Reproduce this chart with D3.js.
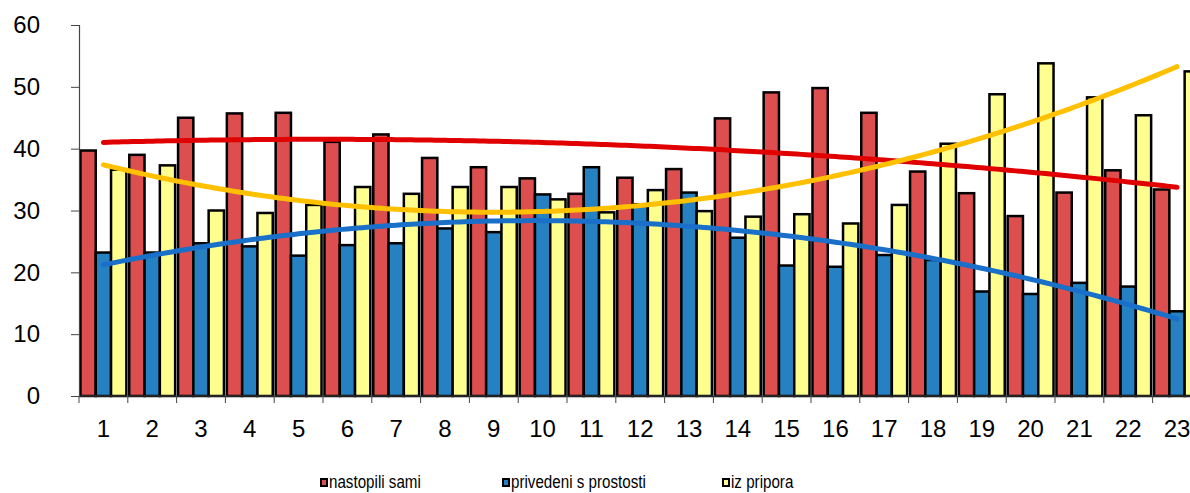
<!DOCTYPE html>
<html>
<head>
<meta charset="utf-8">
<script src="https://cdn.jsdelivr.net/npm/d3@7"></script>
<style>
	body { margin: 0; background: #fff; }
	svg { display: block; }
</style>
</head>
<body>
<div id="chart"></div>
<script>

var categories = ["1","2","3","4","5","6","7","8","9","10","11","12","13","14","15","16","17","18","19","20","21","22","23"];
var seriesNames = ["nastopili sami", "privedeni s prostosti", "iz pripora"];
var nastopili = [39.7, 39.0, 45.0, 45.7, 45.8, 41.1, 42.3, 38.5, 37.0, 35.2, 32.7, 35.3, 36.7, 44.9, 49.1, 49.8, 45.8, 36.3, 32.8, 29.1, 32.9, 36.5, 33.4];
var privedeni = [23.2, 23.2, 24.7, 24.2, 22.7, 24.4, 24.7, 27.1, 26.5, 32.6, 37.0, 31.0, 32.9, 25.6, 21.1, 20.9, 22.8, 22.0, 16.9, 16.5, 18.3, 17.7, 13.7];
var izPripora = [36.6, 37.3, 30.0, 29.6, 30.9, 33.8, 32.7, 33.8, 33.8, 31.8, 29.7, 33.3, 29.9, 29.0, 29.4, 27.9, 30.9, 40.8, 48.8, 53.8, 48.3, 45.4, 52.5];
var yTicks = [0, 10, 20, 30, 40, 50, 60];
var barColors = ["#dd4e4e", "#2681c2", "#ffff8f"];
var trendColors = ["#e00000", "#1a70c8", "#ffc000"];

var chartW = 1190, chartH = 493;
var plotLeft = 79, plotTop = 25, plotBottom = 396;
var plotRight = plotLeft + 23 * 48.8;

// least squares fit of order 2, like the spreadsheet trendline
function polyFit(values) {
	var s = [0, 0, 0, 0, 0], t = [0, 0, 0];
	for (var i = 0; i < values.length; i++) {
		var x = i + 1;
		for (var k = 0; k < 5; k++) s[k] += Math.pow(x, k);
		for (var k = 0; k < 3; k++) t[k] += values[i] * Math.pow(x, k);
	}
	var m = [[s[0], s[1], s[2], t[0]], [s[1], s[2], s[3], t[1]], [s[2], s[3], s[4], t[2]]];
	for (var c = 0; c < 3; c++) {
		for (var r = c + 1; r < 3; r++) {
			var f = m[r][c] / m[c][c];
			for (var j = c; j < 4; j++) m[r][j] -= f * m[c][j];
		}
	}
	var b = [0, 0, 0];
	for (var r = 2; r >= 0; r--) {
		var sum = m[r][3];
		for (var j = r + 1; j < 3; j++) sum -= m[r][j] * b[j];
		b[r] = sum / m[r][r];
	}
	return function(x) { return b[0] + b[1] * x + b[2] * x * x; };
}

function drawChart() {

	var allSeries = [nastopili, privedeni, izPripora];

	var svg = d3.select("#chart").append("svg")
		.attr("width", chartW)
		.attr("height", chartH);

	var x = d3.scaleBand().domain(categories).range([plotLeft, plotRight]).paddingInner(0.06).paddingOuter(0.03);
	var xs = d3.scaleBand().domain([0, 1, 2]).range([0, x.bandwidth()]);
	var y = d3.scaleLinear().domain([0, 60]).range([plotBottom, plotTop]);
	var xc = d3.scaleLinear().domain([1, 23]).range([x("1") + x.bandwidth() / 2, x("23") + x.bandwidth() / 2]);

	// bars
	var groups = svg.append("g").selectAll("g")
		.data(categories)
		.enter().append("g")
		.attr("transform", function(d) { return "translate(" + x(d) + ",0)"; });

	groups.selectAll("rect")
		.data(function(d, i) { return allSeries.map(function(s, k) { return {k: k, v: s[i]}; }); })
		.enter().append("rect")
		.attr("x", function(d) { return xs(d.k); })
		.attr("y", function(d) { return y(d.v); })
		.attr("width", xs.bandwidth())
		.attr("height", function(d) { return y(0) - y(d.v); })
		.attr("fill", function(d) { return barColors[d.k]; })
		.attr("stroke", "#000")
		.attr("stroke-width", 2.5);

	// y axis
	var yAxis = svg.append("g")
		.attr("transform", "translate(" + plotLeft + ",0)")
		.call(d3.axisLeft(y).tickValues(yTicks).tickSize(8).tickPadding(31));
	yAxis.select(".domain").attr("stroke", "#444").attr("stroke-width", 1.2);
	yAxis.selectAll(".tick line").attr("stroke", "#444");
	yAxis.selectAll("text")
		.attr("font-family", "Liberation Sans, Arial, sans-serif")
		.attr("font-size", 24)
		.attr("fill", "#000");

	// x axis
	var xAxisLine = svg.append("g");
	xAxisLine.append("line")
		.attr("x1", plotLeft).attr("x2", plotRight)
		.attr("y1", plotBottom).attr("y2", plotBottom)
		.attr("stroke", "#444").attr("stroke-width", 1.2);
	xAxisLine.selectAll("line.tk")
		.data(d3.range(24))
		.enter().append("line")
		.attr("class", "tk")
		.attr("x1", function(d) { return plotLeft + d * x.step(); })
		.attr("x2", function(d) { return plotLeft + d * x.step(); })
		.attr("y1", plotBottom).attr("y2", plotBottom + 7)
		.attr("stroke", "#444");
	xAxisLine.selectAll("text")
		.data(categories)
		.enter().append("text")
		.attr("x", function(d) { return x(d) + x.bandwidth() / 2; })
		.attr("y", 437)
		.attr("text-anchor", "middle")
		.attr("font-family", "Liberation Sans, Arial, sans-serif")
		.attr("font-size", 24)
		.text(function(d) { return d; });

	// trend lines
	var line = d3.line()
		.x(function(d) { return xc(d[0]); })
		.y(function(d) { return y(d[1]); });

	allSeries.forEach(function(s, k) {
		var f = polyFit(s);
		var pts = d3.range(1, 23.001, 0.1).map(function(t) { return [t, f(t)]; });
		svg.append("path")
			.datum(pts)
			.attr("d", line)
			.attr("fill", "none")
			.attr("stroke", trendColors[k])
			.attr("stroke-width", 5)
			.attr("stroke-linecap", "round");
	});

	// legend
	var legendX = [321, 503, 723];
	var legend = svg.append("g").selectAll("g")
		.data(seriesNames)
		.enter().append("g")
		.attr("transform", function(d, i) { return "translate(" + legendX[i] + ",479)"; });
	legend.append("rect")
		.attr("width", 6).attr("height", 7)
		.attr("fill", function(d, i) { return barColors[i]; })
		.attr("stroke", "#000")
		.attr("stroke-width", 2);
	legend.append("text")
		.attr("transform", "translate(8,8.5) scale(0.82,1)")
		.attr("font-family", "Liberation Sans, Arial, sans-serif")
		.attr("font-size", 18.5)
		.text(function(d) { return d; });
}

drawChart();

</script>
</body>
</html>
